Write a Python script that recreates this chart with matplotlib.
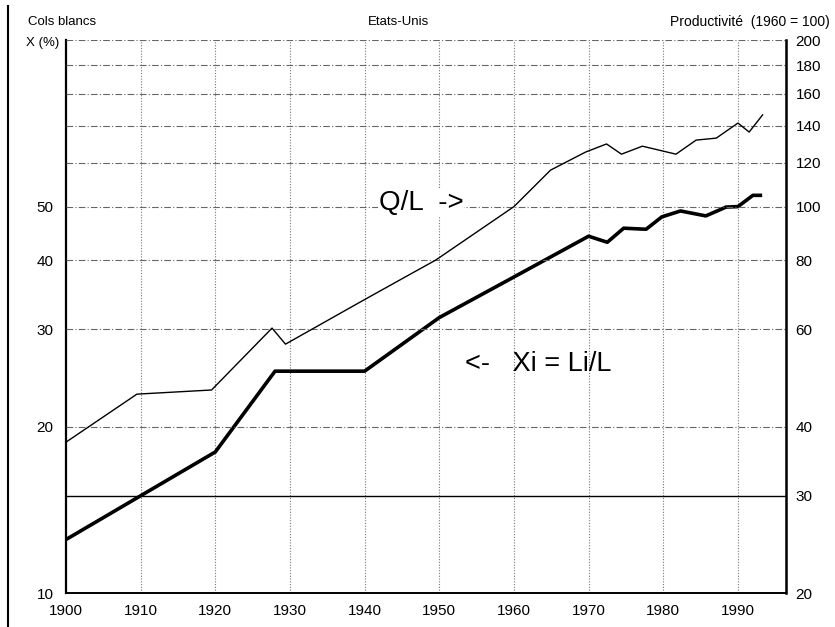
"""
Cols blancs et productivite, Etats-Unis 1900-1993 (double echelle log).
"""

import matplotlib.pyplot as plt
from matplotlib.lines import Line2D
from matplotlib.ticker import FixedLocator, NullLocator, FixedFormatter

plt.rcParams["font.family"] = ["Liberation Sans", "DejaVu Sans"]

# Xi = Li/L, part des cols blancs (%), echelle de gauche
xi_years = [1900, 1910, 1920, 1928, 1940, 1950, 1960, 1970, 1972.5, 1974.7,
            1977.7, 1979.8, 1982.3, 1985.7, 1988.4, 1990, 1992, 1993]
xi_values = [12.5, 15.0, 18.0, 25.2, 25.2, 31.5, 37.3, 44.2, 43.1, 45.7,
             45.5, 47.9, 49.1, 48.1, 49.9, 50.0, 52.4, 52.4]

# Q/L, productivite (1960 = 100), echelle de droite
ql_years = [1900, 1909.5, 1919.5, 1927.6, 1929.4, 1939.4, 1945.9, 1949.5,
            1960, 1964.9, 1969.6, 1972.4, 1974.4, 1977.2, 1981.7, 1984.4,
            1987.1, 1990, 1991.5, 1993.3]
ql_values = [37.5, 45.8, 46.6, 60.3, 56.4, 67.2, 75.2, 80.0, 100.0, 116.4,
             125.5, 129.8, 124.4, 128.6, 124.4, 131.9, 133.0, 141.6, 136.4, 146.5]

left_ticks = [10, 20, 30, 40, 50]
right_ticks = [20, 30, 40, 60, 80, 100, 120, 140, 160, 180, 200]
year_ticks = [1900, 1910, 1920, 1930, 1940, 1950, 1960, 1970, 1980, 1990]


def main() -> None:
    fig = plt.figure(figsize=(8.35, 6.27), dpi=100)
    ax = fig.add_axes([0.079, 0.054, 0.862, 0.882])
    ax2 = ax.twinx()

    ax.set_yscale("log")
    ax2.set_yscale("log")
    ax.set_ylim(10, 100)
    ax2.set_ylim(20, 200)
    ax.set_xlim(1900, 1996.4)

    # ticks
    ax.xaxis.set_major_locator(FixedLocator(year_ticks))
    ax.yaxis.set_major_locator(FixedLocator(left_ticks))
    ax.yaxis.set_major_formatter(FixedFormatter([str(v) for v in left_ticks]))
    ax.yaxis.set_minor_locator(NullLocator())
    ax2.yaxis.set_major_locator(FixedLocator(right_ticks))
    ax2.yaxis.set_major_formatter(FixedFormatter([str(v) for v in right_ticks]))
    ax2.yaxis.set_minor_locator(NullLocator())
    ax.tick_params(axis="both", length=0, labelsize=11)
    ax.tick_params(axis="y", pad=9)
    ax.tick_params(axis="x", pad=8)
    ax2.tick_params(axis="y", length=0, labelsize=11, pad=7)

    # grid
    for yr in year_ticks[1:]:
        ax.axvline(yr, color="#777777", lw=0.8, ls=(0, (1, 1.5)), zorder=1)
    for v in right_ticks[1:]:
        if v == 30:
            ax2.axhline(v, color="black", lw=1.0, zorder=1)
        else:
            ax2.axhline(v, color="#666666", lw=0.8, ls=(0, (6, 2, 1, 2)), zorder=1)

    # series
    ax.plot(xi_years, xi_values, color="black", lw=2.6, zorder=3)
    ax2.plot(ql_years, ql_values, color="black", lw=1.0, zorder=3)

    # spines
    for a in (ax, ax2):
        a.spines["top"].set_visible(False)
    ax.spines["left"].set_linewidth(1.6)
    ax.spines["bottom"].set_linewidth(1.4)
    ax2.spines["right"].set_linewidth(1.8)
    ax2.spines["left"].set_visible(False)
    ax2.spines["bottom"].set_visible(False)

    # annotations
    ax2.text(1941.9, 101.5, "Q/L  ->", fontsize=20, va="center", ha="left",
             bbox=dict(facecolor="white", edgecolor="none", pad=0.5), zorder=4)
    ax.text(1953.5, 26.0, "<-   Xi = Li/L", fontsize=19.5, va="center", ha="left",
            zorder=4)

    # headers
    fig.text(0.033, 0.965, "Cols blancs", fontsize=9.5, va="center", ha="left")
    fig.text(0.031, 0.932, "X (%)", fontsize=9.5, va="center", ha="left")
    fig.text(0.477, 0.965, "Etats-Unis", fontsize=9.5, va="center", ha="center")
    fig.text(0.994, 0.965, "Productivité  (1960 = 100)", fontsize=10,
             va="center", ha="right")

    # scan border on the left
    fig.add_artist(Line2D([0.009, 0.009], [0.0, 0.99], color="black", lw=1.5,
                          transform=fig.transFigure))

    fig.savefig("out.png", dpi=100)
    plt.close(fig)


if __name__ == "__main__":
    main()
